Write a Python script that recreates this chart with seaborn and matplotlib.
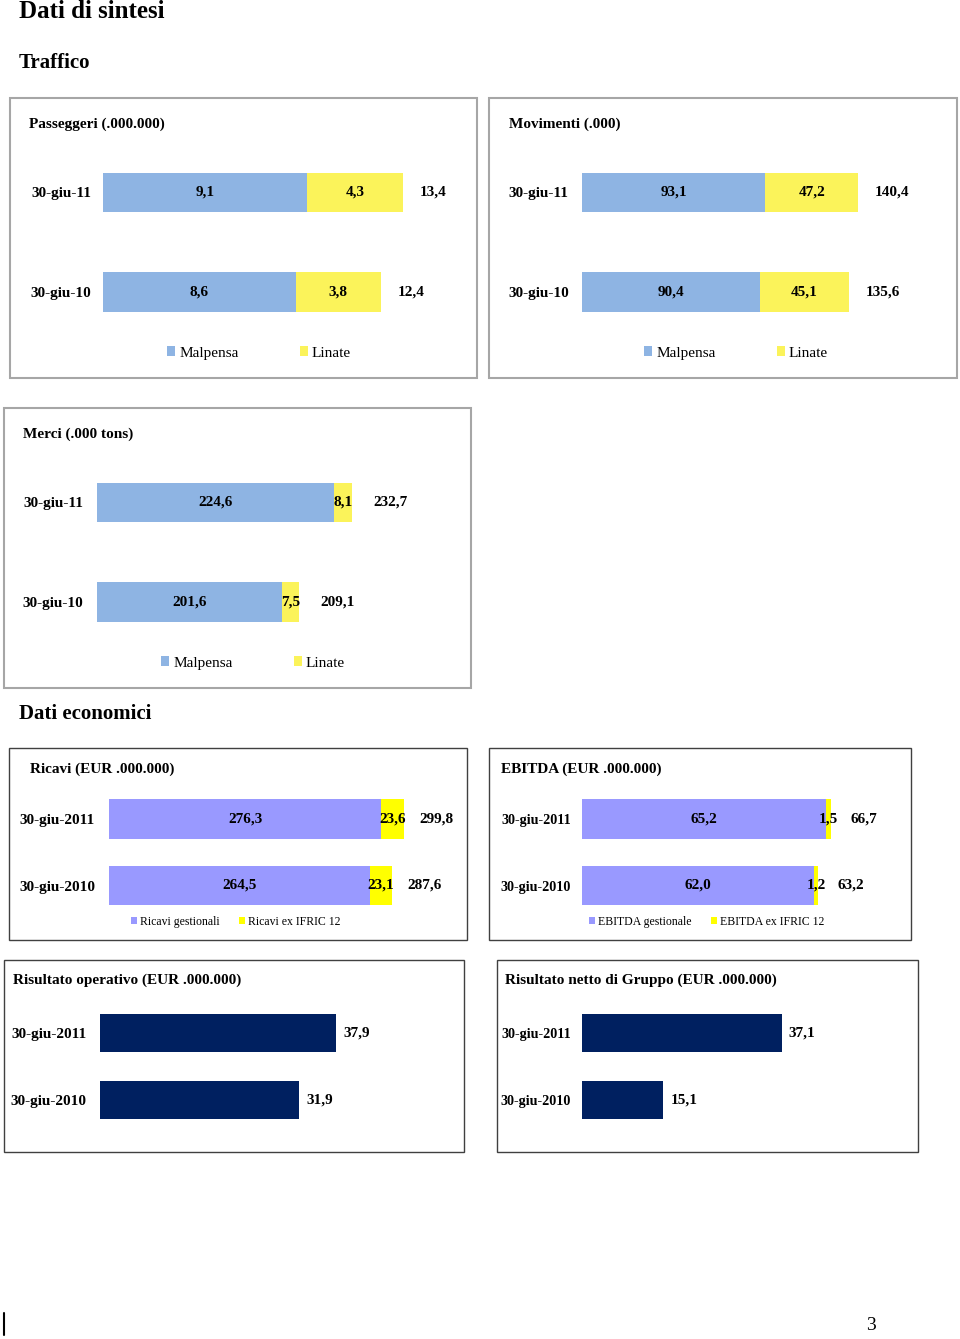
import matplotlib
matplotlib.use('Agg')
import matplotlib.pyplot as plt
import matplotlib.patches as mpatches
import seaborn as sns

# --- data ---
traffic_dates = ['30-giu-11', '30-giu-10']
econ_dates = ['30-giu-2011', '30-giu-2010']

pax_malpensa = [9.1, 8.6]
pax_linate = [4.3, 3.8]
pax_total = [13.4, 12.4]

mov_malpensa = [93.1, 90.4]
mov_linate = [47.2, 45.1]
mov_total = [140.4, 135.6]

cargo_malpensa = [224.6, 201.6]
cargo_linate = [8.1, 7.5]
cargo_total = [232.7, 209.1]

rev_gest = [276.3, 264.5]
rev_ifric = [23.6, 23.1]
rev_total = [299.8, 287.6]

ebitda_gest = [65.2, 62.0]
ebitda_ifric = [1.5, 1.2]
ebitda_total = [66.7, 63.2]

ebit = [37.9, 31.9]
net_result = [37.1, 15.1]

BLUE = '#8EB4E3'
YELLOW = '#FBF35A'
PERI = '#9999FF'
BRIGHT_Y = '#FFFF00'
NAVY = '#002060'

sns.set_style('white')
plt.rcParams['font.family'] = ['Liberation Serif', 'DejaVu Serif']
plt.rcParams['text.color'] = 'black'
plt.rcParams['ytick.color'] = 'black'
plt.rcParams['ytick.labelcolor'] = 'black'

W, H = 960, 1339
fig = plt.figure(figsize=(W / 100, H / 100), dpi=100)


def fmt(v):
    return f'{v:.1f}'.replace('.', ',')


def box(x1, y1, x2, y2, color, lw):
    fig.add_artist(mpatches.Rectangle((x1 / W, 1 - y2 / H), (x2 - x1) / W, (y2 - y1) / H,
                                      transform=fig.transFigure, fill=False,
                                      edgecolor=color, linewidth=lw))


def label(x, y, s, size=11, weight='bold', **kw):
    fig.text(x / W, 1 - y / H, s, fontsize=size, fontweight=weight, va='center', ha='left', **kw)


def make_ax(xl, xr, c1, step, x0, scale, pad, tsize=11):
    ax = fig.add_axes([xl / W, 1 - (c1 + 1.5 * step) / H, (xr - xl) / W, 2 * step / H])
    ax.patch.set_alpha(0)
    ax._lims = (x0, x0 + (xr - xl) / scale)
    ax._pad = pad
    ax._tsize = tsize
    return ax


def finish(ax):
    ax.set_xlim(*ax._lims)
    ax.set_ylim(1.5, -0.5)
    ax.set_xticks([])
    ax.set_xlabel('')
    ax.set_ylabel('')
    sns.despine(ax=ax, left=True, bottom=True)
    ax.tick_params(axis='y', length=0, pad=ax._pad)
    for t in ax.get_yticklabels():
        t.set_fontweight('bold')
        t.set_fontsize(ax._tsize)
        t.set_color('black')


def stacked(ax, cats, a, b, totals, colors, width, off):
    ends = [p + q for p, q in zip(a, b)]
    sns.barplot(x=ends, y=cats, orient='y', color=colors[1], width=width,
                saturation=1, errorbar=None, linewidth=0, ax=ax)
    sns.barplot(x=a, y=cats, orient='y', color=colors[0], width=width,
                saturation=1, errorbar=None, linewidth=0, ax=ax)
    finish(ax)
    x0 = max(ax._lims[0], 0)
    for i in range(len(cats)):
        ax.text((x0 + a[i]) / 2, i, fmt(a[i]), ha='center', va='center',
                fontweight='bold', fontsize=11)
        ax.text(a[i] + b[i] / 2, i, fmt(b[i]), ha='center', va='center',
                fontweight='bold', fontsize=11)
        ax.annotate(fmt(totals[i]), xy=(ends[i], i), xytext=(off, 0),
                    textcoords='offset points', ha='left', va='center',
                    fontweight='bold', fontsize=11)


def single(ax, cats, vals, color, width, off):
    sns.barplot(x=vals, y=cats, orient='y', color=color, width=width,
                saturation=1, errorbar=None, linewidth=0, ax=ax)
    finish(ax)
    for i in range(len(cats)):
        ax.annotate(fmt(vals[i]), xy=(vals[i], i), xytext=(off, 0),
                    textcoords='offset points', ha='left', va='center',
                    fontweight='bold', fontsize=11)


def legend(x, y, names, colors, size, colspace, hl):
    handles = [mpatches.Patch(facecolor=c, edgecolor='none', label=n) for n, c in zip(names, colors)]
    fig.legend(handles=handles, loc='center left', bbox_to_anchor=(x / W, 1 - y / H),
               ncol=2, frameon=False, fontsize=size, borderpad=0, borderaxespad=0,
               handlelength=hl, handleheight=hl, handletextpad=0.25, columnspacing=colspace,
               labelcolor='black')


# headings
fig.text(19 / W, 1 - 18 / H, 'Dati di sintesi', fontsize=18, fontweight='bold', va='baseline')
fig.text(19 / W, 1 - 68 / H, 'Traffico', fontsize=15, fontweight='bold', va='baseline')
fig.text(19 / W, 1 - 719 / H, 'Dati economici', fontsize=15, fontweight='bold', va='baseline')

# panel frames
box(10, 98, 477, 378, '#A6A6A6', 1.5)
box(489, 98, 957, 378, '#A6A6A6', 1.5)
box(4, 408, 471, 688, '#A6A6A6', 1.5)
box(9, 748, 467, 940, '#404040', 1.0)
box(489, 748, 911, 940, '#404040', 1.0)
box(4, 960, 464, 1152, '#404040', 1.0)
box(497, 960, 918, 1152, '#404040', 1.0)

# Passeggeri
label(29, 124, 'Passeggeri (.000.000)')
ax = make_ax(103, 470, 192.5, 99.5, 0, 22.4, 8.6)
stacked(ax, traffic_dates, pax_malpensa, pax_linate, pax_total, [BLUE, YELLOW], 0.4, 12)
legend(167, 353, ['Malpensa', 'Linate'], [BLUE, YELLOW], 11, 4.0, 0.55)

# Movimenti
label(509, 124, 'Movimenti (.000)')
ax = make_ax(582, 950, 192.5, 99.5, 0, 1.97, 9.5)
stacked(ax, traffic_dates, mov_malpensa, mov_linate, mov_total, [BLUE, YELLOW], 0.4, 12)
legend(644, 353, ['Malpensa', 'Linate'], [BLUE, YELLOW], 11, 4.0, 0.55)

# Merci
label(23, 434, 'Merci (.000 tons)')
ax = make_ax(97, 465, 502.5, 99.5, 119.7, 2.26, 10)
stacked(ax, traffic_dates, cargo_malpensa, cargo_linate, cargo_total, [BLUE, YELLOW], 0.4, 15)
legend(161, 663, ['Malpensa', 'Linate'], [BLUE, YELLOW], 11, 4.0, 0.55)

# Ricavi
label(30, 769, 'Ricavi (EUR .000.000)')
ax = make_ax(109, 462, 819, 66.5, 0, 0.985, 10)
stacked(ax, econ_dates, rev_gest, rev_ifric, rev_total, [PERI, BRIGHT_Y], 0.59, 11)
legend(131, 922, ['Ricavi gestionali', 'Ricavi ex IFRIC 12'], [PERI, BRIGHT_Y], 8.5, 1.6, 0.55)

# EBITDA
label(501, 769, 'EBITDA (EUR .000.000)')
ax = make_ax(582, 905, 819, 66.5, 0, 3.74, 8, 10.2)
stacked(ax, econ_dates, ebitda_gest, ebitda_ifric, ebitda_total, [PERI, BRIGHT_Y], 0.59, 14)
legend(589, 922, ['EBITDA gestionale', 'EBITDA ex IFRIC 12'], [PERI, BRIGHT_Y], 8.5, 1.6, 0.55)

# Risultato operativo
label(13, 980, 'Risultato operativo (EUR .000.000)')
ax = make_ax(100, 458, 1033, 67, 0, 6.23, 9.5)
single(ax, econ_dates, ebit, NAVY, 0.57, 5.5)

# Risultato netto
label(505, 980, 'Risultato netto di Gruppo (EUR .000.000)')
ax = make_ax(582, 912, 1033, 67, 0, 5.39, 8, 10.2)
single(ax, econ_dates, net_result, NAVY, 0.57, 5)

# page footer
fig.add_artist(plt.Line2D([4 / W, 4 / W], [1 - 1313 / H, 1 - 1335 / H],
                          transform=fig.transFigure, color='black', linewidth=1.5))
fig.text(866 / W, 1 - 1325 / H, '3', fontsize=14, va='center', ha='left')

fig.savefig('out.png', dpi=100)
